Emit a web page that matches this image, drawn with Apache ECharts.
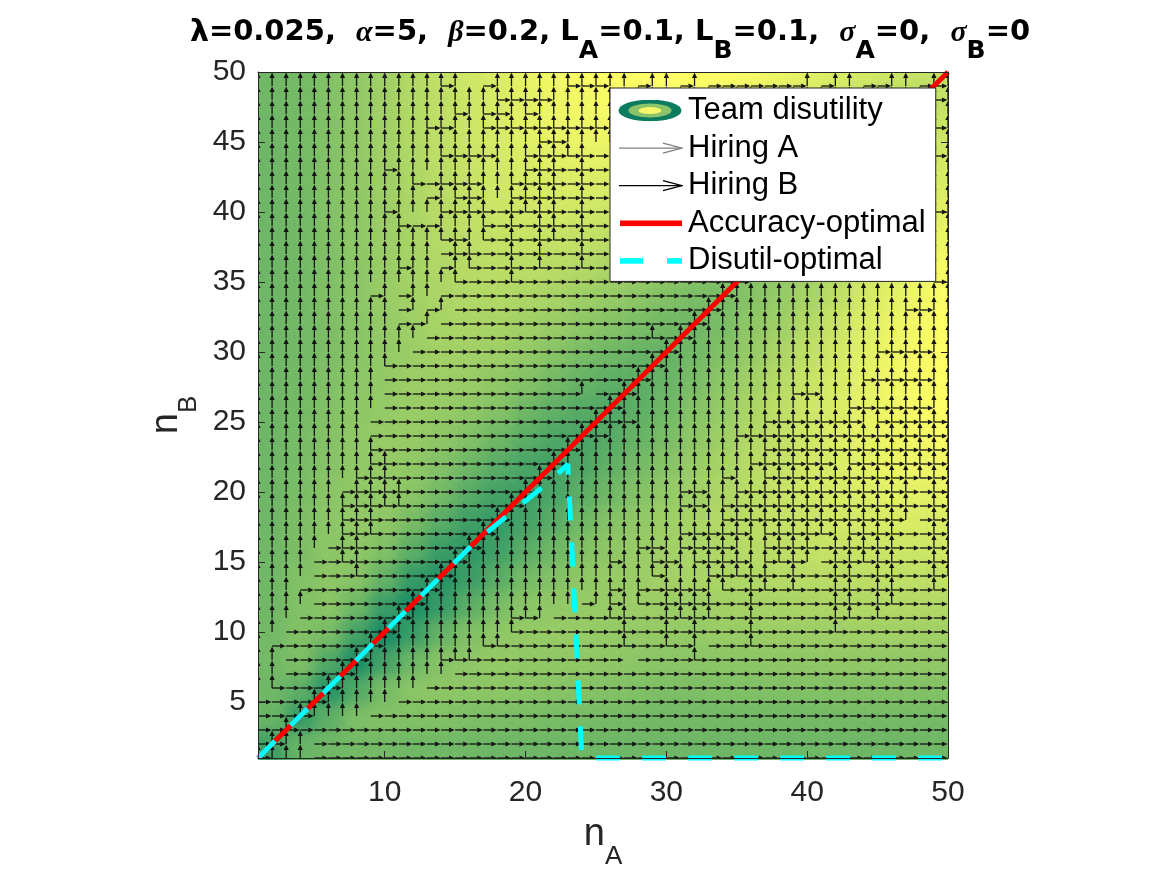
<!DOCTYPE html>
<html>
<head>
<meta charset="utf-8">
<title>Team disutility</title>
<script src="https://cdn.jsdelivr.net/npm/echarts@6/dist/echarts.min.js"></script>
<style>
html, body { margin: 0; padding: 0; background: #fff; }
#wrap { position: relative; width: 1167px; height: 875px; }
#heatClip { position: absolute; left: 258px; top: 72px; width: 690px; height: 688px; overflow: hidden; }
#heatDiv { position: absolute; left: -258px; top: -72px; width: 1167px; height: 875px; filter: blur(7px); }
#chartDiv { position: absolute; left: 0; top: 0; width: 1167px; height: 875px; }
</style>
</head>
<body>
<div id="wrap">
    <div id="heatClip"><div id="heatDiv"></div></div>
    <div id="chartDiv"></div>
</div>
<script>
var xTicks = [10, 20, 30, 40, 50];
var yTicks = [5, 10, 15, 20, 25, 30, 35, 40, 45, 50];

// heat cells: centres in nA, rows listed from nB=50 down to nB=2
var cellX = [2, 4, 6, 8, 10, 12, 14, 16, 18, 20, 22, 24, 26, 28, 30, 32, 34, 36, 38, 40, 42, 44, 46, 48, 50];
var cellY = [50, 48, 46, 44, 42, 40, 38, 36, 34, 32, 30, 28, 26, 24, 22, 20, 18, 16, 14, 12, 10, 8, 6, 4, 2];
var disutility = [
    [44,46,51,57,63,70,76,81,86,91,95,98,100,100,100,100,99,97,93,89,86,83,80,77,76],
    [44,46,51,57,63,70,75,80,85,89,93,95,97,97,97,96,94,91,87,83,79,76,73,72,77],
    [43,46,51,57,63,70,75,80,85,89,92,93,94,94,93,92,89,85,80,76,72,68,67,73,80],
    [43,46,51,57,63,69,74,79,83,86,89,90,90,89,88,86,83,78,73,69,66,64,68,76,83],
    [43,46,51,57,62,68,73,78,82,84,85,86,85,84,82,79,74,69,65,62,61,66,72,79,86],
    [43,45,51,56,61,67,72,76,79,81,82,81,80,78,75,70,65,61,58,57,62,69,76,83,89],
    [43,45,50,56,61,66,71,74,77,78,77,76,74,71,67,62,59,56,54,58,65,73,80,87,93],
    [43,45,50,55,60,65,69,72,73,73,72,70,67,63,59,56,53,51,56,61,69,78,85,91,97],
    [43,45,50,55,60,64,67,69,70,68,66,62,59,55,51,48,48,53,59,65,74,83,89,94,99],
    [43,45,49,54,58,62,66,67,66,63,60,56,52,48,45,44,48,56,62,70,79,86,92,96,100],
    [43,45,49,54,58,61,64,63,62,58,53,48,44,41,40,45,51,59,67,75,82,88,93,97,100],
    [43,46,50,55,58,61,61,60,57,52,46,40,37,36,41,48,55,63,71,78,84,89,94,97,100],
    [43,46,51,56,58,60,59,56,52,44,38,34,32,37,44,52,59,67,74,80,85,90,94,97,100],
    [43,47,52,57,59,59,56,51,44,36,31,29,34,40,48,56,62,70,76,81,86,90,93,95,98],
    [43,47,53,57,59,57,51,43,35,29,27,31,38,46,53,60,66,72,77,82,85,89,92,93,95],
    [43,48,54,57,58,54,46,35,27,25,29,36,44,52,58,63,68,73,78,81,84,86,89,89,91],
    [43,49,55,58,56,47,35,25,21,27,35,44,52,57,62,66,70,73,77,79,82,83,85,85,86],
    [44,49,55,56,50,36,23,18,25,35,43,51,56,60,63,67,69,72,74,76,78,79,80,80,81],
    [44,51,55,53,40,21,15,23,35,46,51,56,59,61,64,66,67,69,71,72,73,74,75,75,76],
    [44,51,54,43,23,11,21,36,47,54,57,59,60,61,61,62,64,65,66,67,68,69,70,70,70],
    [45,51,47,27,9,23,40,50,56,58,59,59,58,58,58,58,60,60,61,61,62,63,63,63,63],
    [45,49,32,11,27,43,53,56,58,57,57,57,56,55,54,54,55,55,56,56,57,57,57,57,57],
    [44,37,15,32,47,54,55,55,55,54,53,52,51,50,49,49,50,50,50,51,51,51,51,51,51],
    [41,21,37,49,51,51,51,49,49,48,47,47,46,46,45,45,45,45,45,45,46,46,46,46,46],
    [25,41,44,45,45,44,44,44,43,43,43,43,43,43,43,43,43,43,43,43,43,43,43,44,44]
];

// hiring direction at every (nA, nB), nA = 1..50 left to right
// '-' hire A, '|' hire B, '+' both, '.' none
var arrowY = [50,49,48,47,46,45,44,43,42,41,40,39,38,37,36,35,34,33,32,31,30,29,28,27,26,
              25,24,23,22,21,20,19,18,17,16,15,14,13,12,11,10,9,8,7,6,5,4,3,2,1];
var arrowRows = [
    "|||||||||| |||||||||| |||||||||| |||||||||| |||||||||+",
    "|||||||||| |||+|.-||| ||+++||-|| -|-------| -||--||-+|",
    "|||||||||| |||||||+++ +||||||||| |||||||||| |||||||++|",
    "|||||||||| ||||+|++|+ |||||||||| |||||||||| ||||||+|||",
    "|||||||||| ||++||++++ +++++||||| |||||||||| |||||+||+|",
    "|||||||||| |||||||||| ++|||||||| |||||||||| ||||+|||||",
    "|||||||||| |||++++||+ ++++------ ---------- ---+||||+|",
    "|||||||||+ |||||||||+ ++-+------ ---------- --+|||||||",
    "|||||||||| |+-+++||++ ++-+------ ---------- -+||||||||",
    "|||||||||| ||-|++||++ ++-+------ ---------- +|||||||||",
    "|||||||||+ |||++++-++ ++-+------ ---------+ ||||||||+|",
    "|||||||||| +--|||+-+- ++-+------ --------+| ||||||||||",
    "|||||||||| |||++|+-+- ++-+------ -------+|| ||||||||||",
    "|||||||||| |||-++--+- +--+------ ------+||| ||||||||||",
    "|||||||||| +||-|+--+- +--+------ -----+|||| ||||||||||",
    "|||||||||| ||||+---+- ---------- ----+||||| ||||||||+|",
    "||||||||-| -||------- ---------- ---+|||||| ||||||||||",
    "|||||||||| -|-|------ ---------- --+||||||| ||||||++||",
    "|||||||||| --|------- ---------- -+|||||||| ||||||||||",
    "|||||||||| ||-------- --------+- +||||||||| ||||||||||",
    "|||||||||| |--------- ---------+ |||||||||| ||||++++||",
    "|||||||||+ ---------- --------+| |||||||||| ||||||||||",
    "|||||||||- ---------- -------+|| |||||||||| |||+++++||",
    "|||||||||- ---------- ---|--+||| ||||||||++ ||||||||||",
    "|||||||||- ---------- -----+|||| |||||||||| ||++++++||",
    "||||||||-- ---------- ----+++||| ||||||++++ +++|+++++|",
    "||||||||-- ---------- ---++||||| ||||++++++ +++++++++|",
    "||||||||+- ---------- --+||||||| ||||||++++ +++++++++|",
    "||||||||++ ---------- -+|||||||| |||||+++++ +|+++++++|",
    "|||||||+++ ---------- +||||||||| |||+||++++ +++++++++|",
    "||||||-+++ +--------+ |||||||||| ++||++++++ +++++++-+|",
    "||||||++++ +-------+| |||||||||| ++|+++++++ +++++++-+|",
    "||||||+++- -------+|| |||||||||| |||+++++++ ++++++|-+|",
    "||||||+++- ------+||| |||||||||| +++++|++++ +|++++--+|",
    "|||||-++-- -----+|||| |||||||++| ++++||++++ -+++++--+|",
    "||||--++-- ----+||||| |||||+||++ |++++|+++| -+++++--+|",
    "||||---+-- ---+|||||| ||||||||+| ||+++++-+- -++-++--+|",
    "|||------- --+||||||| |||||+|+-+ ++|+-++-+- -++-++--+-",
    "||||------ -+|||||||| |||-|+|+-+ +++--+---- -++-++----",
    "|||------- +|||||||++ |----++--+ +++--+---- -++-+-----",
    "||-------+ ||||||||+- ------+--+ -+---+---- -+--------",
    "|-------+| ||||||++-- ------+--+ -|---+---- ----------",
    "||-----+|| |||+++---- ------.--- -+-------- ----------",
    "||----+||| ||||------ ---------- ---------- ----------",
    "|+---+|||| ||-------- ---------- ---------- ----------",
    "----+||||| ---------- ---------- ---------- ----------",
    "---+||||-- ---------- ---------- ---------- ----------",
    "--+------- ---------- ---------- ---------- ----------",
    "-+||------ ---------- ---------- ---------- ----------",
    "+|||------ ---------- ---------- ---------- ----------"
];

var accA = [1, 50];
var accB = [1, 50];
var disA = [1, 16.5, 22, 23, 24, 50];
var disB = [1, 16.5, 21, 22, 1, 1];

var font = 'Liberation Sans';
var axisColor = '#262626';
var gridBox = { left: 258, right: 219, top: 72, bottom: 115 };

var heatData = [];
for (var j = 0; j < cellY.length; j++) {
    for (var i = 0; i < cellX.length; i++) {
        heatData.push([cellX[i], cellY[j], disutility[j][i]]);
    }
}

var hireA = [], hireB = [];
for (var r = 0; r < arrowRows.length; r++) {
    var row = arrowRows[r].replace(/ /g, '');
    for (var k = 0; k < row.length; k++) {
        var c = row.charAt(k);
        if (c === '-' || c === '+') hireA.push([k + 1, arrowY[r]]);
        if (c === '|' || c === '+') hireB.push([k + 1, arrowY[r]]);
    }
}

var pairs = function(a, b) {
    return a.map(function(v, i) { return [v, b[i]]; });
};

var svgIcon = function(body) {
    var svg = '<svg xmlns="http://www.w3.org/2000/svg" width="65" height="22" viewBox="0 0 65 22">' + body + '</svg>';
    return 'image://data:image/svg+xml;charset=utf-8,' + encodeURIComponent(svg);
};
var arrowSvg = function(col) {
    return '<line x1="1" y1="11" x2="64" y2="11" stroke="' + col + '" stroke-width="1.3"/>' +
        '<polyline points="45,6 64,11 45,16" fill="none" stroke="' + col + '" stroke-width="1.3"/>';
};
var icons = {
    heat: svgIcon('<ellipse cx="32" cy="11" rx="31.5" ry="10.8" fill="#0c7b5f"/>' +
        '<ellipse cx="32" cy="11" rx="21.5" ry="7" fill="#8bc36a"/>' +
        '<ellipse cx="32" cy="11" rx="11.5" ry="3.6" fill="#f8f66a"/>'),
    a: svgIcon(arrowSvg('#808080')),
    b: svgIcon(arrowSvg('#000000')),
    acc: svgIcon('<rect x="2" y="8.2" width="62" height="5.6" fill="#ff0000"/>'),
    dis: svgIcon('<rect x="2" y="8.2" width="23" height="5.6" fill="#00ffff"/>' +
        '<rect x="49" y="8.2" width="15" height="5.6" fill="#00ffff"/>')
};

// edge cells are stretched past the frame so the soft shading does not fade at the border
var renderCell = function(params, api) {
    var x = api.value(0), y = api.value(1);
    var x0 = x <= 2 ? -2 : x - 1, x1 = x >= 50 ? 53 : x + 1;
    var y0 = y <= 2 ? -2 : y - 1, y1 = y >= 50 ? 53 : y + 1;
    var p0 = api.coord([x0, y1]);
    var p1 = api.coord([x1, y0]);
    return {
        type: 'rect',
        shape: { x: p0[0], y: p0[1], width: p1[0] - p0[0] + 0.6, height: p1[1] - p0[1] + 0.6 },
        style: { fill: api.visual('color') }
    };
};

var renderArrow = function(dx, dy) {
    return function(params, api) {
        var x = api.value(0), y = api.value(1);
        var p0 = api.coord([x, y]);
        var p1 = api.coord([x + dx * 0.96, y + dy * 0.96]);
        var ux = p1[0] - p0[0], uy = p1[1] - p0[1];
        var len = Math.sqrt(ux * ux + uy * uy) || 1;
        ux /= len; uy /= len;
        var hl = 5.5, hw = 2.6;
        var bx = p1[0] - ux * hl, by = p1[1] - uy * hl;
        return {
            type: 'group',
            children: [
                { type: 'line', shape: { x1: p0[0], y1: p0[1], x2: bx, y2: by },
                  style: { stroke: '#141414', lineWidth: 1.3 } },
                { type: 'polygon',
                  shape: { points: [[p1[0], p1[1]], [bx - uy * hw, by + ux * hw], [bx + uy * hw, by - ux * hw]] },
                  style: { fill: '#141414' } }
            ]
        };
    };
};

var subRich = function(size, sub, pad) {
    return {
        n: { fontFamily: font, fontSize: size, color: axisColor, verticalAlign: 'top' },
        s: { fontFamily: font, fontSize: sub, color: axisColor, verticalAlign: 'top', padding: [pad, 0, 0, 0] }
    };
};

// shaded disutility layer (blurred by css, sits under the main chart)
var heatChart = echarts.init(document.getElementById('heatDiv'));
heatChart.setOption({
    animation: false,
    grid: gridBox,
    visualMap: {
        show: false,
        type: 'continuous',
        min: 0,
        max: 100,
        dimension: 2,
        seriesIndex: 0,
        inRange: { color: ['#008066', '#ffff66'] }
    },
    xAxis: { type: 'value', min: 1, max: 50, show: false },
    yAxis: { type: 'value', min: 1, max: 50, show: false },
    series: [{
        name: 'Team disutility',
        type: 'custom',
        renderItem: renderCell,
        data: heatData,
        encode: { x: 0, y: 1 },
        clip: false,
        silent: true
    }]
});

var myChart = echarts.init(document.getElementById('chartDiv'));

var option = {
    animation: false,
    textStyle: { fontFamily: font },
    title: {
        text: '{g|λ}{m|=0.025, }{gi|α}{m|=5, }{gi|β}{m|=0.2, L}{s|A}{m|=0.1, L}{s|B}{m|=0.1, }' +
              '{gi|σ}{s|A}{m|=0, }{gi|σ}{s|B}{m|=0}',
        left: 610,
        top: 18,
        textAlign: 'center',
        padding: 0,
        textStyle: {
            rich: {
                m: { fontFamily: 'DejaVu Sans', fontSize: 29, fontWeight: 'bold', color: '#000', verticalAlign: 'top' },
                g: { fontFamily: 'DejaVu Sans', fontSize: 30, color: '#000', verticalAlign: 'top' },
                gi: { fontFamily: 'Liberation Serif', fontStyle: 'italic', fontSize: 30, color: '#000',
                      verticalAlign: 'top', padding: [0, 0, 0, 10] },
                s: { fontFamily: 'DejaVu Sans', fontSize: 25, fontWeight: 'bold', color: '#000',
                     verticalAlign: 'top', padding: [21, 0, 0, 0] }
            }
        }
    },
    legend: {
        orient: 'vertical',
        left: 610,
        top: 88,
        padding: [7, 10, 5, 8],
        itemWidth: 65,
        itemHeight: 22,
        itemGap: 6.6,
        backgroundColor: '#fff',
        borderColor: '#262626',
        borderWidth: 1,
        selectedMode: false,
        z: 10,
        textStyle: { fontFamily: font, fontSize: 31, color: '#000' },
        data: [
            { name: 'Team disutility', icon: icons.heat },
            { name: 'Hiring A', icon: icons.a },
            { name: 'Hiring B', icon: icons.b },
            { name: 'Accuracy-optimal', icon: icons.acc },
            { name: 'Disutil-optimal', icon: icons.dis }
        ]
    },
    grid: gridBox,
    xAxis: [{
        type: 'value', min: 1, max: 50, position: 'bottom', z: 6,
        name: '{n|n}{s|A}',
        nameLocation: 'middle',
        nameGap: 58,
        nameTextStyle: { rich: subRich(38, 26, 28) },
        axisLine: { show: true, onZero: false, lineStyle: { color: axisColor, width: 1 } },
        axisTick: { show: true, inside: true, length: 7, customValues: xTicks, lineStyle: { color: axisColor } },
        axisLabel: { customValues: xTicks, fontSize: 30, color: axisColor, margin: 20, fontFamily: font },
        splitLine: { show: false }
    }, {
        type: 'value', min: 1, max: 50, position: 'top', z: 6,
        axisLine: { show: true, onZero: false, lineStyle: { color: axisColor, width: 1 } },
        axisTick: { show: true, inside: true, length: 7, customValues: xTicks, lineStyle: { color: axisColor } },
        axisLabel: { show: false },
        splitLine: { show: false }
    }],
    yAxis: [{
        type: 'value', min: 1, max: 50, position: 'left', z: 6,
        name: '{n|n}{s|B}',
        nameLocation: 'middle',
        nameRotate: 90,
        nameGap: 48,
        nameTextStyle: { rich: subRich(38, 26, 28) },
        axisLine: { show: true, onZero: false, lineStyle: { color: axisColor, width: 1 } },
        axisTick: { show: true, inside: true, length: 7, customValues: yTicks, lineStyle: { color: axisColor } },
        axisLabel: { customValues: yTicks, fontSize: 30, color: axisColor, margin: 12, fontFamily: font },
        splitLine: { show: false }
    }, {
        type: 'value', min: 1, max: 50, position: 'right', z: 6,
        axisLine: { show: true, onZero: false, lineStyle: { color: axisColor, width: 1 } },
        axisTick: { show: true, inside: true, length: 7, customValues: yTicks, lineStyle: { color: axisColor } },
        axisLabel: { show: false },
        splitLine: { show: false }
    }],
    series: [{
        // legend entry for the shaded layer drawn by heatChart underneath
        name: 'Team disutility',
        type: 'custom',
        renderItem: renderCell,
        data: [],
        silent: true,
        z: 1
    }, {
        name: 'Hiring A',
        type: 'custom',
        renderItem: renderArrow(1, 0),
        data: hireA,
        encode: { x: 0, y: 1 },
        clip: true,
        silent: true,
        progressive: 0,
        itemStyle: { color: '#808080' },
        z: 2
    }, {
        name: 'Hiring B',
        type: 'custom',
        renderItem: renderArrow(0, 1),
        data: hireB,
        encode: { x: 0, y: 1 },
        clip: true,
        silent: true,
        progressive: 0,
        itemStyle: { color: '#000' },
        z: 2
    }, {
        name: 'Accuracy-optimal',
        type: 'line',
        data: pairs(accA, accB),
        symbol: 'none',
        clip: true,
        silent: true,
        lineStyle: { color: '#ff0000', width: 5 },
        itemStyle: { color: '#ff0000' },
        z: 3
    }, {
        name: 'Disutil-optimal',
        type: 'line',
        data: pairs(disA, disB),
        symbol: 'none',
        clip: false,
        silent: true,
        lineStyle: { color: '#00ffff', width: 5, type: [24, 22] },
        itemStyle: { color: '#00ffff' },
        z: 4
    }]
};

myChart.setOption(option);
</script>
</body>
</html>
